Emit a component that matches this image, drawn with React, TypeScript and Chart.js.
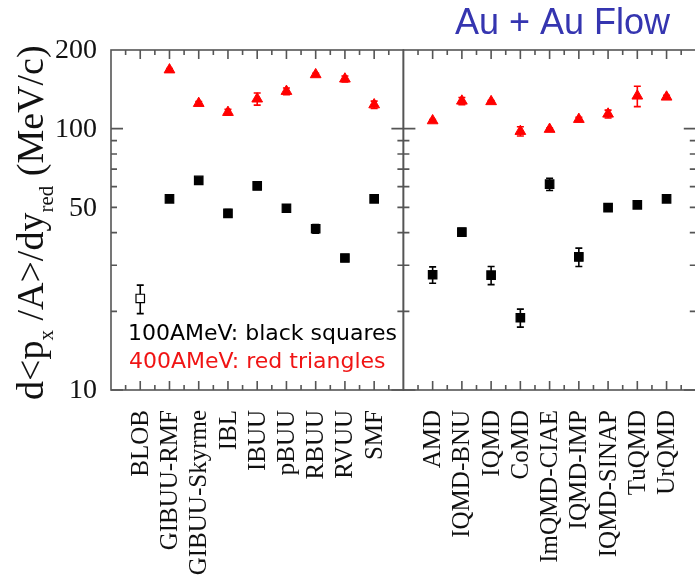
import React, { useEffect, useRef } from 'react';
import { Chart, registerables } from 'chart.js';
Chart.register(...registerables);

const leftModels = ['BLOB', 'GIBUU-RMF', 'GIBUU-Skyrme', 'IBL', 'IBUU', 'pBUU', 'RBUU', 'RVUU', 'SMF'];
const rightModels = ['AMD', 'IQMD-BNU', 'IQMD', 'CoMD', 'ImQMD-CIAE', 'IQMD-IMP', 'IQMD-SINAP', 'TuQMD', 'UrQMD'];

// 100 AMeV (black squares)
const flow100Left = [22.4, 53.9, 63.4, 47.4, 60.4, 49.6, 41.4, 32.0, 53.9];
const flow100LeftErr = [2.8, 1.0, 1.2, 1.6, 1.0, 1.0, 1.6, 0.8, 1.6];
const flow100Right = [27.6, 40.2, 27.5, 18.9, 61.3, 32.3, 49.9, 51.1, 53.9];
const flow100RightErr = [2.0, 1.3, 2.2, 1.5, 3.3, 2.6, 1.6, 1.4, 1.3];

// 400 AMeV (red triangles)
const flow400Left = [null, 168, 125, 115.5, 130, 139, 161, 155, 123.5];
const flow400LeftErr = [null, 2, 2, 3, 7, 4, 2, 4, 4];
const flow400Right = [107.3, 127.6, 127, 97.7, 99.5, 108.6, 113.8, 133.4, 132.2];
const flow400RightErr = [1, 4, 1, 4, 1, 2, 4, 12, 2];

const yMajorTicks = [10, 100];
const yMinorTicks = [20, 30, 40, 50, 60, 70, 80, 90];
const yTickLabels = [10, 50, 100, 200];

const titleText = 'Au + Au Flow';
const legendBlack = '100AMeV: black squares';
const legendRed = '400AMeV: red triangles';

const W = 703;
const H = 587;

const RED = 'rgb(255,0,0)';
const FRAME = '#555555';

export default function App() {
  const ref = useRef<HTMLCanvasElement>(null);

  useEffect(() => {
    const canvas = ref.current;
    if (!canvas) return;

    const sqX = [...leftModels.map((_, i) => i + 1), ...rightModels.map((_, i) => i + 11)];
    const sqY = [...flow100Left, ...flow100Right];
    const sqE = [...flow100LeftErr, ...flow100RightErr];
    const trY = [...flow400Left, ...flow400Right];
    const trE = [...flow400LeftErr, ...flow400RightErr];

    const squares = sqX.map((x, i) => ({ x, y: sqY[i] }));
    const triangles = sqX
      .map((x, i) => ({ x, y: trY[i] }))
      .filter((p) => p.y !== null);
    const sqFill = sqX.map((_, i) => (i === 0 ? '#ffffff' : '#000000'));

    const decor = {
      id: 'decor',
      beforeDatasetsDraw(chart: any) {
        const { ctx, chartArea: a, scales } = chart;
        const xs = scales.x;
        const ys = scales.y;
        ctx.save();
        // error bars
        const drawErr = (vals: (number | null)[], errs: (number | null)[], color: string) => {
          ctx.strokeStyle = color;
          ctx.lineWidth = 1.6;
          vals.forEach((v, i) => {
            const e = errs[i];
            if (v === null || e === null) return;
            const px = xs.getPixelForValue(sqX[i]);
            const top = ys.getPixelForValue(v + e);
            const bot = ys.getPixelForValue(v - e);
            ctx.beginPath();
            ctx.moveTo(px, top);
            ctx.lineTo(px, bot);
            ctx.moveTo(px - 3.5, top);
            ctx.lineTo(px + 3.5, top);
            ctx.moveTo(px - 3.5, bot);
            ctx.lineTo(px + 3.5, bot);
            ctx.stroke();
          });
        };
        drawErr(sqY, sqE, '#000000');
        drawErr(trY, trE, RED);

        // frames and ticks
        ctx.strokeStyle = FRAME;
        ctx.lineWidth = 1.6;
        const panels = [
          [0, 10],
          [10, 20],
        ];
        panels.forEach(([p0, p1]) => {
          const l = xs.getPixelForValue(p0);
          const r = xs.getPixelForValue(p1);
          ctx.strokeRect(l, a.top, r - l, a.bottom - a.top);
          ctx.beginPath();
          for (let k = 1; k <= 19; k++) {
            const px = xs.getPixelForValue(p0 + k * 0.5);
            const len = k % 2 === 0 ? 9 : 5;
            ctx.moveTo(px, a.bottom);
            ctx.lineTo(px, a.bottom - len);
            ctx.moveTo(px, a.top);
            ctx.lineTo(px, a.top + len);
          }
          const yt = (v: number, len: number) => {
            const py = ys.getPixelForValue(v);
            ctx.moveTo(l, py);
            ctx.lineTo(l + len, py);
            ctx.moveTo(r, py);
            ctx.lineTo(r - len, py);
          };
          yMajorTicks.forEach((v) => yt(v, 12));
          yMinorTicks.forEach((v) => yt(v, 6));
          ctx.stroke();
        });
        ctx.restore();
      },
      afterDraw(chart: any) {
        const { ctx, chartArea: a, scales } = chart;
        const xs = scales.x;
        const ys = scales.y;
        ctx.save();
        // y tick labels
        ctx.fillStyle = '#111';
        ctx.font = '28px "Liberation Serif", "DejaVu Serif", serif';
        ctx.textAlign = 'right';
        ctx.textBaseline = 'middle';
        yTickLabels.forEach((v) => {
          ctx.fillText(String(v), 97, ys.getPixelForValue(v) + 1);
        });

        // category labels
        ctx.font = '25px "Liberation Serif", "DejaVu Serif", serif';
        const drawCat = (name: string, xv: number) => {
          const px = xs.getPixelForValue(xv);
          ctx.save();
          ctx.translate(px + 1, a.bottom + 20);
          ctx.rotate(-Math.PI / 2);
          ctx.textAlign = 'right';
          ctx.textBaseline = 'middle';
          ctx.fillText(name, 0, 0);
          ctx.restore();
        };
        leftModels.forEach((m, i) => drawCat(m, i + 1));
        rightModels.forEach((m, i) => drawCat(m, i + 11));

        // y axis title with subscripts
        const big = 38;
        const small = 21;
        const segs: [string, boolean][] = [
          ['d<p', false],
          ['x', true],
          [' /A>/dy', false],
          ['red', true],
          [' (MeV/c)', false],
        ];
        ctx.save();
        ctx.translate(43, 400);
        ctx.rotate(-Math.PI / 2);
        ctx.textAlign = 'left';
        ctx.textBaseline = 'alphabetic';
        let cx = 0;
        segs.forEach(([t, sub]) => {
          ctx.font = `${sub ? small : big}px "Liberation Serif", "DejaVu Serif", serif`;
          ctx.fillText(t, cx, sub ? 10 : 0);
          cx += ctx.measureText(t).width;
        });
        ctx.restore();

        // title
        ctx.fillStyle = 'rgb(53,53,176)';
        ctx.font = '36px "Liberation Sans", Arial, sans-serif';
        ctx.textAlign = 'left';
        ctx.textBaseline = 'alphabetic';
        ctx.fillText(titleText, 455, 34);

        // legend texts
        ctx.font = '22px "DejaVu Sans", sans-serif';
        ctx.fillStyle = '#000';
        ctx.fillText(legendBlack, 128, 340);
        ctx.fillStyle = 'rgb(240,20,20)';
        ctx.fillText(legendRed, 129, 368);
        ctx.restore();
      },
    };

    const chart = new Chart(canvas, {
      type: 'scatter',
      data: {
        datasets: [
          {
            label: '400AMeV',
            data: triangles,
            pointStyle: 'triangle',
            pointRadius: 6.2,
            pointBackgroundColor: RED,
            pointBorderColor: RED,
            pointBorderWidth: 1,
            showLine: false,
          },
          {
            label: '100AMeV',
            data: squares,
            pointStyle: 'rect',
            pointRadius: 6,
            pointBackgroundColor: sqFill,
            pointBorderColor: '#000',
            pointBorderWidth: 1.2,
            showLine: false,
          },
        ],
      },
      options: {
        animation: false,
        responsive: false,
        maintainAspectRatio: false,
        devicePixelRatio: 1,
        layout: { padding: { left: 111, right: W - 699, top: 50, bottom: H - 390 } },
        scales: {
          x: { type: 'linear', min: 0, max: 20, display: false },
          y: { type: 'logarithmic', min: 10, max: 200, display: false },
        },
        plugins: {
          legend: { display: false },
          tooltip: { enabled: false },
          title: { display: false },
        },
      },
      plugins: [decor],
    });
    return () => chart.destroy();
  }, []);

  return (
    <div
      style={{
        position: 'fixed',
        left: 0,
        top: 0,
        width: 695,
        height: 587,
        overflow: 'hidden',
        background: '#fff',
      }}
    >
      <canvas ref={ref} width={W} height={H} style={{ display: 'block', width: W, height: H }} />
    </div>
  );
}
